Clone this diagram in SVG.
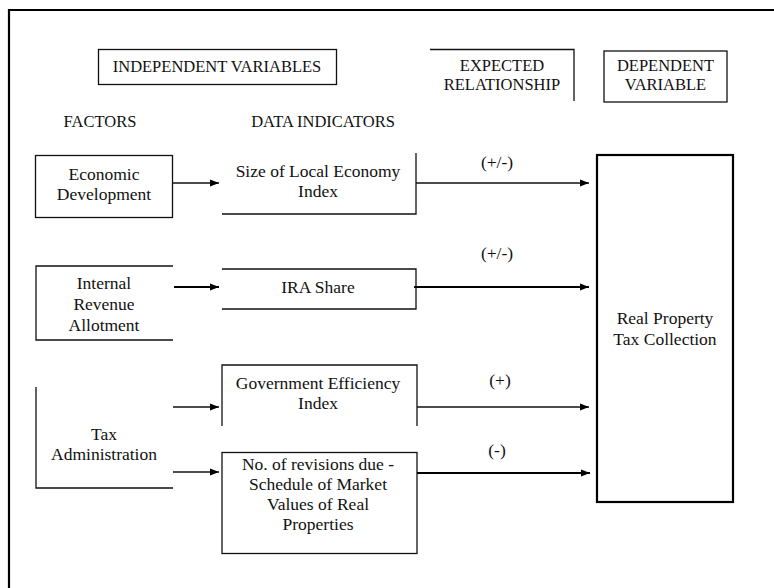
<svg xmlns="http://www.w3.org/2000/svg" width="774" height="588" viewBox="0 0 774 588" font-family="'Liberation Serif', 'DejaVu Serif', serif">
<defs>
<marker id="ah2" viewBox="0 0 10 10" refX="10" refY="5" markerWidth="9" markerHeight="9" markerUnits="userSpaceOnUse" orient="auto">
<path d="M0,1 L10,5 L0,9 z" fill="#000"/>
</marker>
</defs>
<style>
text{font-family:'Liberation Serif','DejaVu Serif',serif;font-size:17.5px;fill:#111;text-anchor:middle}
text.cap{font-size:16.5px}
.ln{fill:none;stroke:#111;stroke-width:1.3}
.bold{fill:none;stroke:#000;stroke-width:2.2}
.ar{stroke:#111;stroke-width:1.3;fill:none;marker-end:url(#ah2)}
.ar2{stroke:#000;stroke-width:2.2;fill:none;marker-end:url(#ah2)}
</style>
<rect width="774" height="588" fill="#fff"/>
<g id="frame">
<path class="bold" d="M9,588 V10 H774" stroke-width="3"/>
</g>
<g id="hdr-independent">
<rect class="ln" x="98.5" y="49.5" width="238" height="35"/>
<text class="cap" x="217" y="72">INDEPENDENT VARIABLES</text>
</g>
<g id="hdr-expected">
<path class="ln" d="M430,49.5 H574 V101"/>
<text class="cap" x="502" y="71">EXPECTED</text>
<text class="cap" x="502" y="90">RELATIONSHIP</text>
</g>
<g id="hdr-dependent">
<rect class="ln" x="604" y="51" width="123" height="51"/>
<text class="cap" x="665.5" y="71">DEPENDENT</text>
<text class="cap" x="665.5" y="90">VARIABLE</text>
</g>
<g id="lbl-factors"><text class="cap" x="100" y="127">FACTORS</text></g>
<g id="lbl-indicators"><text class="cap" x="323" y="127">DATA INDICATORS</text></g>
<g id="f-econ">
<rect class="ln" x="35.5" y="155.5" width="137" height="62"/>
<text x="104" y="180">Economic</text>
<text x="104" y="200">Development</text>
</g>
<g id="f-ira">
<path class="ln" d="M173,266 H36 V340 H173"/>
<text x="104" y="289">Internal</text>
<text x="104" y="310">Revenue</text>
<text x="104" y="331">Allotment</text>
</g>
<g id="f-tax">
<path class="ln" d="M36,387 V488 H173"/>
<text x="104" y="440">Tax</text>
<text x="104" y="460">Administration</text>
</g>
<g id="d-size">
<path class="ln" d="M222,214 H416 V153"/>
<text x="318" y="177">Size of Local Economy</text>
<text x="318" y="197">Index</text>
</g>
<g id="d-irashare">
<path class="ln" d="M222,269 H416 V309 H222"/>
<text x="318" y="293">IRA Share</text>
</g>
<g id="d-gov">
<path class="ln" d="M222,426 V365 H417 V426"/>
<text x="318" y="389">Government Efficiency</text>
<text x="318" y="409">Index</text>
</g>
<g id="d-rev">
<rect class="ln" x="222" y="452.5" width="195" height="101"/>
<text x="318" y="470">No. of revisions due -</text>
<text x="318" y="490">Schedule of Market</text>
<text x="318" y="510">Values of Real</text>
<text x="318" y="530">Properties</text>
</g>
<g id="dep-rptc">
<rect class="bold" x="597" y="155" width="136" height="347" stroke-width="2"/>
<text x="665" y="324">Real Property</text>
<text x="665" y="345">Tax Collection</text>
</g>
<g id="connectors">
<line class="ar" x1="173" y1="183" x2="219" y2="183"/>
<line class="ar2" x1="174" y1="287" x2="219" y2="287"/>
<line class="ar" x1="173" y1="407" x2="219" y2="407"/>
<line class="ar" x1="173" y1="472" x2="219" y2="472"/>
<line class="ar" x1="416" y1="183" x2="589" y2="183"/>
<line class="ar2" x1="414" y1="287" x2="589" y2="287"/>
<line class="ar" x1="417" y1="407" x2="589" y2="407"/>
<line class="ar2" x1="417" y1="473" x2="590" y2="473"/>
<text x="497" y="168" font-size="18.5">(+/-)</text>
<text x="497" y="259" font-size="18.5">(+/-)</text>
<text x="500" y="386" font-size="18.5">(+)</text>
<text x="497" y="456" font-size="18.5">(-)</text>
</g>
</svg>
